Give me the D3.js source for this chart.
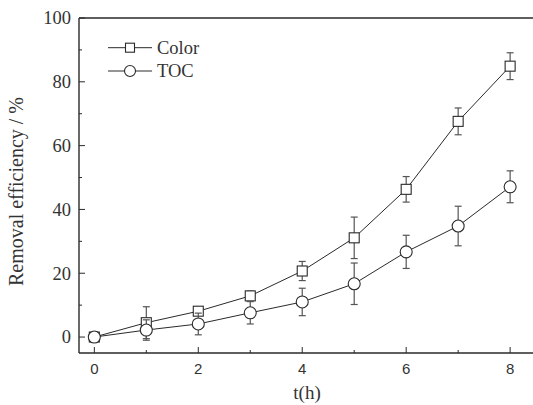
<!DOCTYPE html>
<html><head><meta charset="utf-8">
<script src="https://cdn.jsdelivr.net/npm/d3@7"></script>
</head><body style="margin:0;background:#fff">
<script>
const hours = [0,1,2,3,4,5,6,7,8];
const colorVals = [0, 4.5, 8.1, 12.9, 20.7, 31.1, 46.3, 67.6, 84.9];
const colorErr  = [1.5, 5.0, 1.2, 1.5, 3.0, 6.5, 4.0, 4.2, 4.2];
const tocVals   = [0, 2.2, 4.1, 7.6, 11.0, 16.7, 26.7, 34.8, 47.1];
const tocErr    = [1.5, 3.2, 3.4, 3.5, 4.3, 6.5, 5.2, 6.2, 5.0];
const xTicks = [0,2,4,6,8];
const xMinor = [1,3,5,7];
const yTicks = [0,20,40,60,80,100];
const yMinor = [10,30,50,70,90];
const seriesNames = ["Color","TOC"];

const W=533,H=405;
const SERIF="Liberation Serif";
const SANS="Liberation Sans";
const svg=d3.select("body").append("svg").attr("width",W).attr("height",H).style("display","block").style("font-family",`"${SERIF}"`);
const x=d3.scaleLinear().domain([-0.295,8.44]).range([79,533]);
const y=d3.scaleLinear().domain([-5,100]).range([353,18]);
const ink="#2a2a2a";
const txt="#333";

const g=svg.append("g");
g.append("line").attr("x1",79).attr("x2",79).attr("y1",y(100)).attr("y2",y(-5)).attr("stroke",ink).attr("stroke-width",1.4);
g.append("line").attr("x1",79).attr("x2",533).attr("y1",y(100)).attr("y2",y(100)).attr("stroke",ink).attr("stroke-width",1.4);
g.append("line").attr("x1",79).attr("x2",533).attr("y1",y(-5)).attr("y2",y(-5)).attr("stroke",ink).attr("stroke-width",1.4);

g.selectAll(".yt").data(yTicks).join("line").attr("x1",79).attr("x2",85).attr("y1",d=>y(d)).attr("y2",d=>y(d)).attr("stroke",ink).attr("stroke-width",1);
g.selectAll(".ym").data(yMinor).join("line").attr("x1",79).attr("x2",82).attr("y1",d=>y(d)).attr("y2",d=>y(d)).attr("stroke",ink).attr("stroke-width",1);
g.selectAll(".yl").data(yTicks).join("text").style("font-family",`"${SERIF}"`).attr("x",71).attr("y",d=>y(d)+6.3)
 .attr("text-anchor","end").attr("font-size",18.5).attr("fill",txt).text(d=>d);

g.selectAll(".xt").data(xTicks).join("line").attr("x1",d=>x(d)).attr("x2",d=>x(d)).attr("y1",y(-5)).attr("y2",y(-5)-6).attr("stroke",ink).attr("stroke-width",1);
g.selectAll(".xm").data(xMinor).join("line").attr("x1",d=>x(d)).attr("x2",d=>x(d)).attr("y1",y(-5)).attr("y2",y(-5)-3).attr("stroke",ink).attr("stroke-width",1);
g.selectAll(".xl").data(xTicks).join("text").style("font-family",`"${SANS}"`).attr("x",d=>x(d)).attr("y",374)
 .attr("text-anchor","middle").attr("font-size",15).attr("fill",txt).text(d=>d);

svg.append("text").style("font-family",`"${SERIF}"`).attr("x",307).attr("y",399).attr("text-anchor","middle").attr("font-size",19).attr("fill",txt).text("t(h)");
svg.append("text").style("font-family",`"${SERIF}"`).attr("transform","translate(23,191.5) rotate(-90)").attr("text-anchor","middle").attr("font-size",20).attr("fill",txt).text("Removal efficiency / %");

const line=d3.line().x((d,i)=>x(hours[i])).y(d=>y(d));
function drawSeries(vals,errs,shape){
  const eb=svg.append("g").attr("stroke","#555").attr("stroke-width",1.2);
  vals.forEach((v,i)=>{
    const cx=x(hours[i]);
    eb.append("line").attr("x1",cx).attr("x2",cx).attr("y1",y(v-errs[i])).attr("y2",y(v+errs[i]));
    eb.append("line").attr("x1",cx-3.5).attr("x2",cx+3.5).attr("y1",y(v+errs[i])).attr("y2",y(v+errs[i]));
    eb.append("line").attr("x1",cx-3.5).attr("x2",cx+3.5).attr("y1",y(v-errs[i])).attr("y2",y(v-errs[i]));
  });
  svg.append("path").attr("d",line(vals)).attr("fill","none").attr("stroke",ink).attr("stroke-width",1);
  const m=svg.append("g");
  vals.forEach((v,i)=>{
    const cx=x(hours[i]),cy=y(v);
    if(shape==="square") m.append("rect").attr("x",cx-5).attr("y",cy-5).attr("width",10).attr("height",10).attr("fill","#fff").attr("stroke",ink).attr("stroke-width",1.1);
    else m.append("circle").attr("cx",cx).attr("cy",cy).attr("r",6).attr("fill","#fff").attr("stroke",ink).attr("stroke-width",1.1);
  });
}
drawSeries(colorVals,colorErr,"square");
drawSeries(tocVals,tocErr,"circle");

const lg=svg.append("g");
const ly=[47.7,71];
seriesNames.forEach((n,i)=>{
  lg.append("line").attr("x1",108).attr("x2",152).attr("y1",ly[i]).attr("y2",ly[i]).attr("stroke",ink).attr("stroke-width",1);
  if(i===0) lg.append("rect").attr("x",125.5).attr("y",ly[i]-4.5).attr("width",9).attr("height",9).attr("fill","#fff").attr("stroke",ink).attr("stroke-width",1.1);
  else lg.append("circle").attr("cx",130).attr("cy",ly[i]).attr("r",5.5).attr("fill","#fff").attr("stroke",ink).attr("stroke-width",1.1);
  lg.append("text").style("font-family",`"${SERIF}"`).attr("x",157).attr("y",ly[i]+6).attr("font-size",18.5).attr("fill",txt).text(n);
});
</script>
</body></html>
